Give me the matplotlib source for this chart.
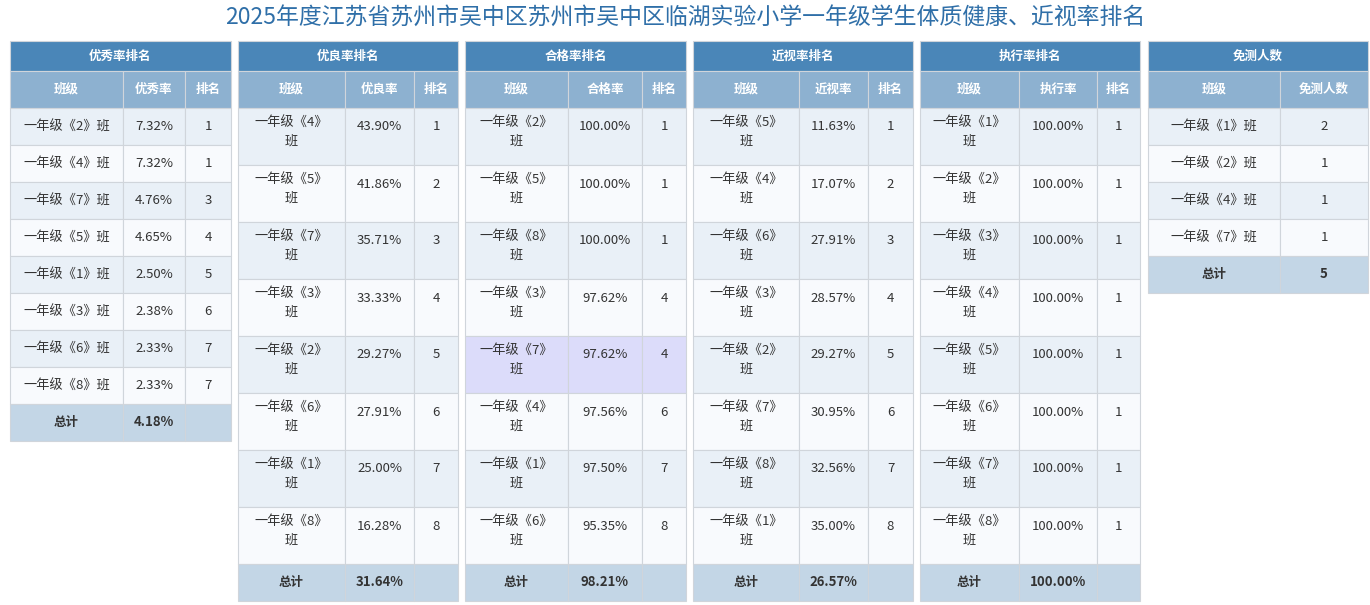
import matplotlib
matplotlib.use("Agg")
import matplotlib.pyplot as plt
from matplotlib.patches import Rectangle

plt.rcParams['font.family'] = ['Noto Sans CJK SC', 'DejaVu Sans']

title = "2025年度江苏省苏州市吴中区苏州市吴中区临湖实验小学一年级学生体质健康、近视率排名"

# table data
excellent_classes = ["一年级《2》班", "一年级《4》班", "一年级《7》班", "一年级《5》班",
                     "一年级《1》班", "一年级《3》班", "一年级《6》班", "一年级《8》班"]
excellent_rates = ["7.32%", "7.32%", "4.76%", "4.65%", "2.50%", "2.38%", "2.33%", "2.33%"]
excellent_ranks = ["1", "1", "3", "4", "5", "6", "7", "7"]

good_classes = ["4", "5", "7", "3", "2", "6", "1", "8"]
good_rates = ["43.90%", "41.86%", "35.71%", "33.33%", "29.27%", "27.91%", "25.00%", "16.28%"]
good_ranks = ["1", "2", "3", "4", "5", "6", "7", "8"]

pass_classes = ["2", "5", "8", "3", "7", "4", "1", "6"]
pass_rates = ["100.00%", "100.00%", "100.00%", "97.62%", "97.62%", "97.56%", "97.50%", "95.35%"]
pass_ranks = ["1", "1", "1", "4", "4", "6", "7", "8"]

myopia_classes = ["5", "4", "6", "3", "2", "7", "8", "1"]
myopia_rates = ["11.63%", "17.07%", "27.91%", "28.57%", "29.27%", "30.95%", "32.56%", "35.00%"]
myopia_ranks = ["1", "2", "3", "4", "5", "6", "7", "8"]

exec_classes = ["1", "2", "3", "4", "5", "6", "7", "8"]
exec_rates = ["100.00%"] * 8
exec_ranks = ["1"] * 8

exempt_classes = ["一年级《1》班", "一年级《2》班", "一年级《4》班", "一年级《7》班"]
exempt_counts = ["2", "1", "1", "1"]

totals = ["4.18%", "31.64%", "98.21%", "26.57%", "100.00%", "5"]

HEAD = "#4a86b8"
SUB = "#8db1d0"
ODD = "#e9f0f7"
EVEN = "#f8fafd"
TOTAL = "#c3d6e6"
HILITE = "#dcdcfa"
GRID = "#d0d5db"
TXT = "#333333"


def two_line(nums):
    return ["一年级《%s》\n班" % n for n in nums]


panels = [
    ("优秀率排名", ["班级", "优秀率", "排名"], [10, 123, 185, 231],
     [excellent_classes, excellent_rates, excellent_ranks], 37, totals[0]),
    ("优良率排名", ["班级", "优良率", "排名"], [238, 345, 414, 458],
     [two_line(good_classes), good_rates, good_ranks], 57, totals[1]),
    ("合格率排名", ["班级", "合格率", "排名"], [465, 568, 642, 686],
     [two_line(pass_classes), pass_rates, pass_ranks], 57, totals[2]),
    ("近视率排名", ["班级", "近视率", "排名"], [693, 799, 868, 913],
     [two_line(myopia_classes), myopia_rates, myopia_ranks], 57, totals[3]),
    ("执行率排名", ["班级", "执行率", "排名"], [920, 1019, 1097, 1140],
     [two_line(exec_classes), exec_rates, exec_ranks], 57, totals[4]),
    ("免测人数", ["班级", "免测人数"], [1148, 1280, 1368],
     [exempt_classes, exempt_counts], 37, totals[5]),
]

fig = plt.figure(figsize=(13.7, 6.05), dpi=100)
ax = fig.add_axes([0, 0, 1, 1])
ax.set_xlim(0, 1370)
ax.set_ylim(605, 0)
ax.axis("off")

ax.text(685, 17, title, ha="center", va="center", fontsize=16.5, color="#2f6fa8")


def cell(x0, y0, w, h, color, text="", bold=False, tc=TXT, size=9.5):
    ax.add_patch(Rectangle((x0, y0), w, h, facecolor=color, edgecolor=GRID, lw=0.8))
    if text:
        ax.text(x0 + w / 2, y0 + h / 2, text, ha="center", va="center",
                fontsize=size, color=tc, fontweight="bold" if bold else "normal",
                linespacing=1.45)


for pi, (name, cols, xs, data, rh, tot) in enumerate(panels):
    left, right = xs[0], xs[-1]
    cell(left, 41, right - left, 30, HEAD, name, True, "white", 9)
    for ci, c in enumerate(cols):
        cell(xs[ci], 71, xs[ci + 1] - xs[ci], 37, SUB, c, True, "white", 9)
    y = 108
    for ri in range(len(data[0])):
        color = ODD if ri % 2 == 0 else EVEN
        if pi == 2 and ri == 4:
            color = HILITE
        for ci in range(len(cols)):
            txt = data[ci][ri]
            w = xs[ci + 1] - xs[ci]
            if "\n" in txt:
                ax.add_patch(Rectangle((xs[ci], y), w, rh, facecolor=color, edgecolor=GRID, lw=0.8))
                ax.text(xs[ci] + w / 2, y + 9, txt, ha="center", va="top",
                        fontsize=9.5, color=TXT, linespacing=1.45)
            elif rh > 40:
                ax.add_patch(Rectangle((xs[ci], y), w, rh, facecolor=color, edgecolor=GRID, lw=0.8))
                ax.text(xs[ci] + w / 2, y + 19, txt, ha="center", va="center",
                        fontsize=9.5, color=TXT)
            else:
                cell(xs[ci], y, w, rh, color, txt)
        y += rh
    cell(xs[0], y, xs[1] - xs[0], 37, TOTAL, "总计", True, TXT, 9)
    cell(xs[1], y, xs[2] - xs[1], 37, TOTAL, tot, True, TXT, 9.5)
    if len(cols) > 2:
        cell(xs[2], y, xs[3] - xs[2], 37, TOTAL)

fig.savefig("out.png", dpi=100)
